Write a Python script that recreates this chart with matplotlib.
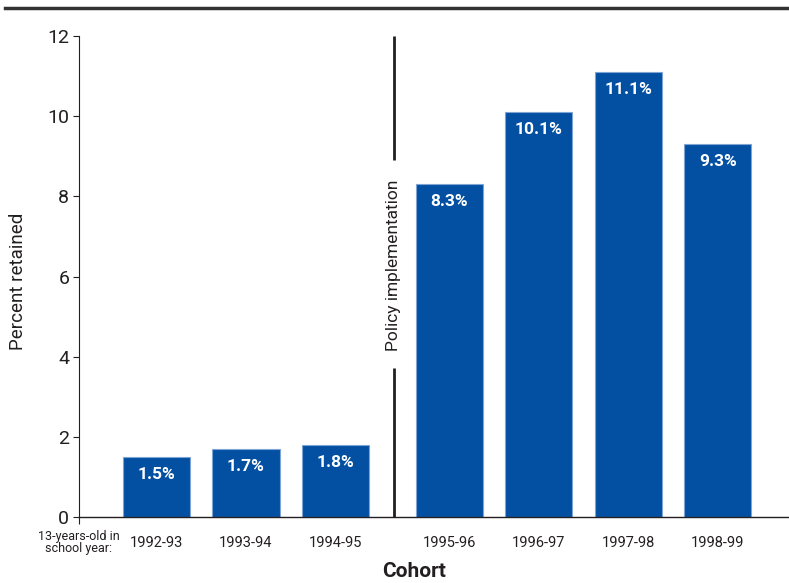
import matplotlib
matplotlib.use("Agg")
import matplotlib.pyplot as plt
from matplotlib.lines import Line2D

# Grade retention by cohort
cohorts = ["1992-93", "1993-94", "1994-95", "1995-96", "1996-97", "1997-98", "1998-99"]
retained_pct = [1.5, 1.7, 1.8, 8.3, 10.1, 11.1, 9.3]
y_ticks = [0, 2, 4, 6, 8, 10, 12]

BAR_COLOR = "#0350a2"
EDGE_COLOR = "#7ea4d6"
TEXT_COLOR = "#231f20"

plt.rcParams["font.family"] = ["Roboto", "DejaVu Sans"]

fig = plt.figure(figsize=(7.89, 5.83), dpi=100)
ax = fig.add_axes([0.1001, 0.1132, 0.8999, 0.825])

# Post-policy cohorts are shifted right to leave room for the marker line
gap = 0.27
positions = [i if i < 3 else i + gap for i in range(len(cohorts))]
policy_x = 2.65

bars = ax.bar(positions, retained_pct, width=0.75, color=BAR_COLOR,
              edgecolor=EDGE_COLOR, linewidth=0.8, zorder=2)

for x, v in zip(positions, retained_pct):
    ax.annotate(f"{v:.1f}%", xy=(x, v), xytext=(0, -12.5), textcoords="offset points",
                ha="center", va="center", color="white", fontsize=12.5, fontweight="bold")

ax.set_xlim(-0.866, 7.067)
ax.set_ylim(0, 12)
ax.set_yticks(y_ticks)
ax.set_yticklabels([str(t) for t in y_ticks], fontsize=14, color=TEXT_COLOR)
ax.tick_params(axis="y", length=4, width=0.8, color=TEXT_COLOR, pad=3)

ax.set_xticks([-0.866])
ax.set_xticklabels([""])
ax.tick_params(axis="x", length=5, width=0.8, color=TEXT_COLOR)

for x, c in zip(positions, cohorts):
    ax.text(x, -0.65, c, ha="center", va="center", fontsize=10.5, color=TEXT_COLOR)

ax.text(-0.866, -0.63, "13-years-old in\nschool year:", ha="center", va="center",
        fontsize=9, color=TEXT_COLOR, linespacing=0.95)

for s in ["top", "right"]:
    ax.spines[s].set_visible(False)
ax.spines["left"].set_color(TEXT_COLOR)
ax.spines["left"].set_linewidth(0.8)
ax.spines["bottom"].set_color(TEXT_COLOR)
ax.spines["bottom"].set_linewidth(1.0)

ax.set_ylabel("Percent retained", fontsize=13.5, color=TEXT_COLOR)
ax.yaxis.set_label_coords(-0.073, 0.49)

ax.text(2.88, -1.35, "Cohort", ha="center", va="center", fontsize=15,
        fontweight="bold", color=TEXT_COLOR)

# Policy implementation marker
ax.plot([policy_x, policy_x], [12, 8.9], color=TEXT_COLOR, lw=2, solid_capstyle="butt")
ax.plot([policy_x, policy_x], [3.72, 0], color=TEXT_COLOR, lw=2, solid_capstyle="butt")
ax.text(policy_x, 6.29, "Policy implementation", rotation=90, ha="center", va="center",
        fontsize=12.5, color=TEXT_COLOR)

# Rule across the top of the figure
fig.add_artist(Line2D([0.006, 1.0], [0.986, 0.986], color="#333333", lw=2.5,
                      transform=fig.transFigure))

fig.savefig("out.png", dpi=100)
